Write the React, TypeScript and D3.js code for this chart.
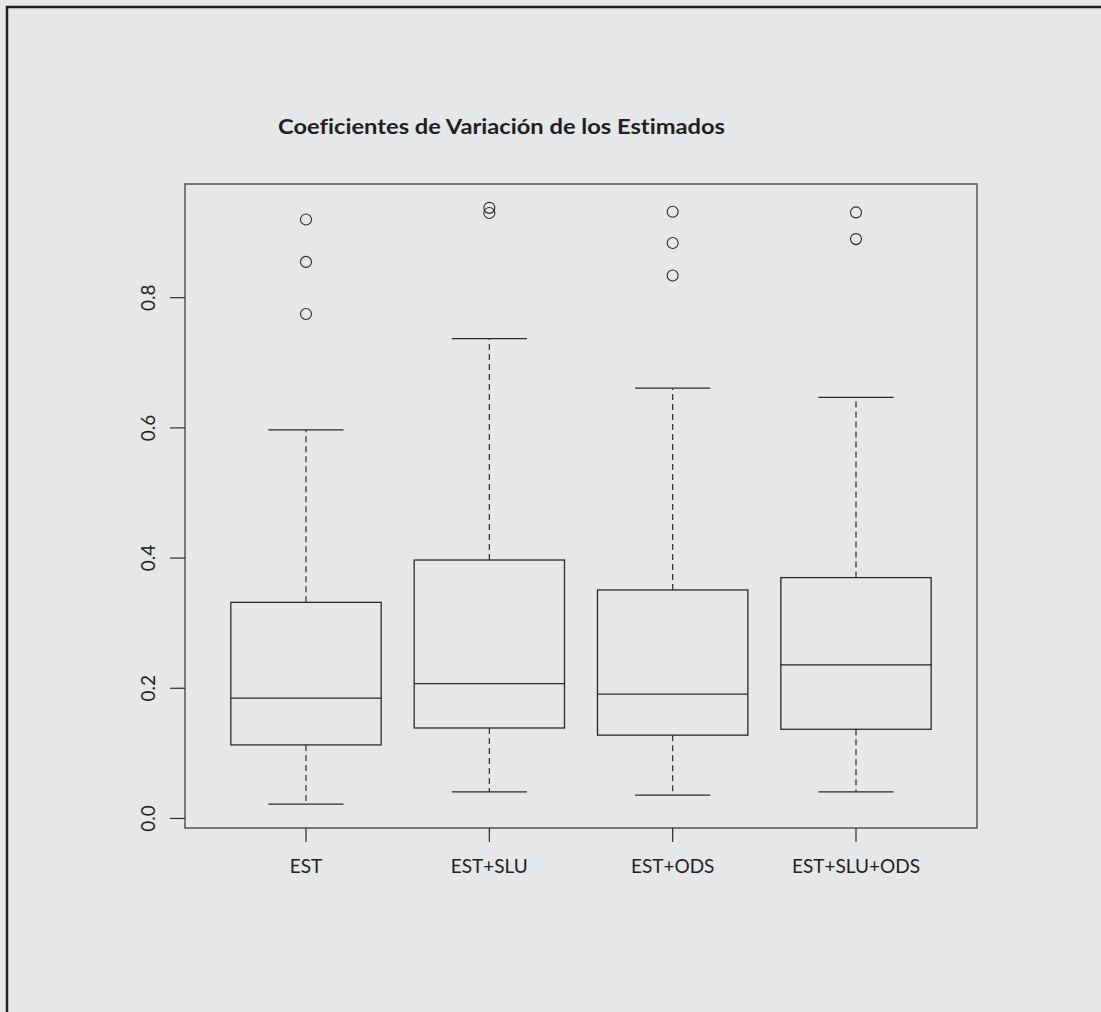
import React from 'react'
import * as d3 from 'd3'

// grupos y estadísticos de cada caja
const groups = ['EST', 'EST+SLU', 'EST+ODS', 'EST+SLU+ODS']
const whiskerLow = [0.022, 0.041, 0.036, 0.041]
const q1 = [0.113, 0.139, 0.128, 0.137]
const medians = [0.185, 0.207, 0.191, 0.236]
const q3 = [0.332, 0.397, 0.351, 0.37]
const whiskerHigh = [0.597, 0.737, 0.661, 0.647]
const outliers = [
    [0.92, 0.855, 0.775],
    [0.938, 0.93],
    [0.932, 0.884, 0.834],
    [0.931, 0.89],
]
const yTicks = [0, 0.2, 0.4, 0.6, 0.8]

const title = 'Coeficientes de Variación de los Estimados'

const width = 1101
const height = 1012
const plot = { left: 185, right: 977, top: 184, bottom: 828 }
const ink = '#2a2a2a'
const frameInk = '#555'
const font = 'Lato, "Open Sans", sans-serif'
const noLig = { fontVariantLigatures: 'none' as const }

const App: React.FC = () => {
    // R style: 4% expansion on both axes
    const allVals = [...whiskerLow, ...whiskerHigh, ...outliers.flat()]
    const lo = d3.min(allVals) as number
    const hi = d3.max(allVals) as number
    const pad = (hi - lo) * 0.04
    const y = d3.scaleLinear().domain([lo - pad, hi + pad]).range([plot.bottom, plot.top])
    const x = d3
        .scaleLinear()
        .domain([0.5 - 0.16, groups.length + 0.5 + 0.16])
        .range([plot.left, plot.right])

    const unit = x(2) - x(1)
    const boxHalf = unit * 0.41
    const capHalf = boxHalf / 2

    return (
        <svg
            width={width}
            height={height}
            style={{ position: 'absolute', left: 0, top: 0, display: 'block' }}
        >
            <rect width={width} height={height} fill='#e6e7e8' />
            {/* marco exterior */}
            <path
                d={`M7,${height + 10} V7 H${width + 10}`}
                fill='none'
                stroke='#231f20'
                strokeWidth={2.5}
            />

            <text
                x={278}
                y={134}
                fontFamily={font}
                fontWeight='bold'
                fontSize={21}
                fill='#231f20'
                textLength={447}
                lengthAdjust='spacingAndGlyphs'
                style={noLig}
            >
                {title}
            </text>

            <rect
                x={plot.left}
                y={plot.top}
                width={plot.right - plot.left}
                height={plot.bottom - plot.top}
                fill='none'
                stroke={frameInk}
                strokeWidth={1.5}
            />

            {/* eje y */}
            {yTicks.map((t) => (
                <g key={t}>
                    <line x1={plot.left - 15} x2={plot.left} y1={y(t)} y2={y(t)} stroke={ink} strokeWidth={1.2} />
                    <text
                        transform={`translate(${155},${y(t)}) rotate(-90)`}
                        textAnchor='middle'
                        fontFamily={font}
                        fontSize={19}
                        fill='#231f20'
                    >
                        {d3.format('.1f')(t)}
                    </text>
                </g>
            ))}

            {/* eje x */}
            {groups.map((g, i) => (
                <g key={g}>
                    <line x1={x(i + 1)} x2={x(i + 1)} y1={plot.bottom} y2={plot.bottom + 14} stroke={ink} strokeWidth={1.2} />
                    <text
                        x={x(i + 1)}
                        y={873}
                        textAnchor='middle'
                        fontFamily={font}
                        fontSize={19}
                        fill='#231f20'
                    >
                        {g}
                    </text>
                </g>
            ))}

            {/* cajas */}
            {groups.map((g, i) => {
                const cx = x(i + 1)
                return (
                    <g key={g} stroke={ink} fill='none'>
                        <line x1={cx} x2={cx} y1={y(q3[i])} y2={y(whiskerHigh[i])} strokeWidth={1.2} strokeDasharray='6,4' />
                        <line x1={cx} x2={cx} y1={y(q1[i])} y2={y(whiskerLow[i])} strokeWidth={1.2} strokeDasharray='6,4' />
                        <line x1={cx - capHalf} x2={cx + capHalf} y1={y(whiskerHigh[i])} y2={y(whiskerHigh[i])} strokeWidth={1.3} />
                        <line x1={cx - capHalf} x2={cx + capHalf} y1={y(whiskerLow[i])} y2={y(whiskerLow[i])} strokeWidth={1.3} />
                        <rect
                            x={cx - boxHalf}
                            y={y(q3[i])}
                            width={boxHalf * 2}
                            height={y(q1[i]) - y(q3[i])}
                            strokeWidth={1.3}
                        />
                        <line x1={cx - boxHalf} x2={cx + boxHalf} y1={y(medians[i])} y2={y(medians[i])} strokeWidth={1.3} />
                        {outliers[i].map((o, j) => (
                            <circle key={j} cx={cx} cy={y(o)} r={5.5} strokeWidth={1.1} />
                        ))}
                    </g>
                )
            })}
        </svg>
    )
}

export default App
